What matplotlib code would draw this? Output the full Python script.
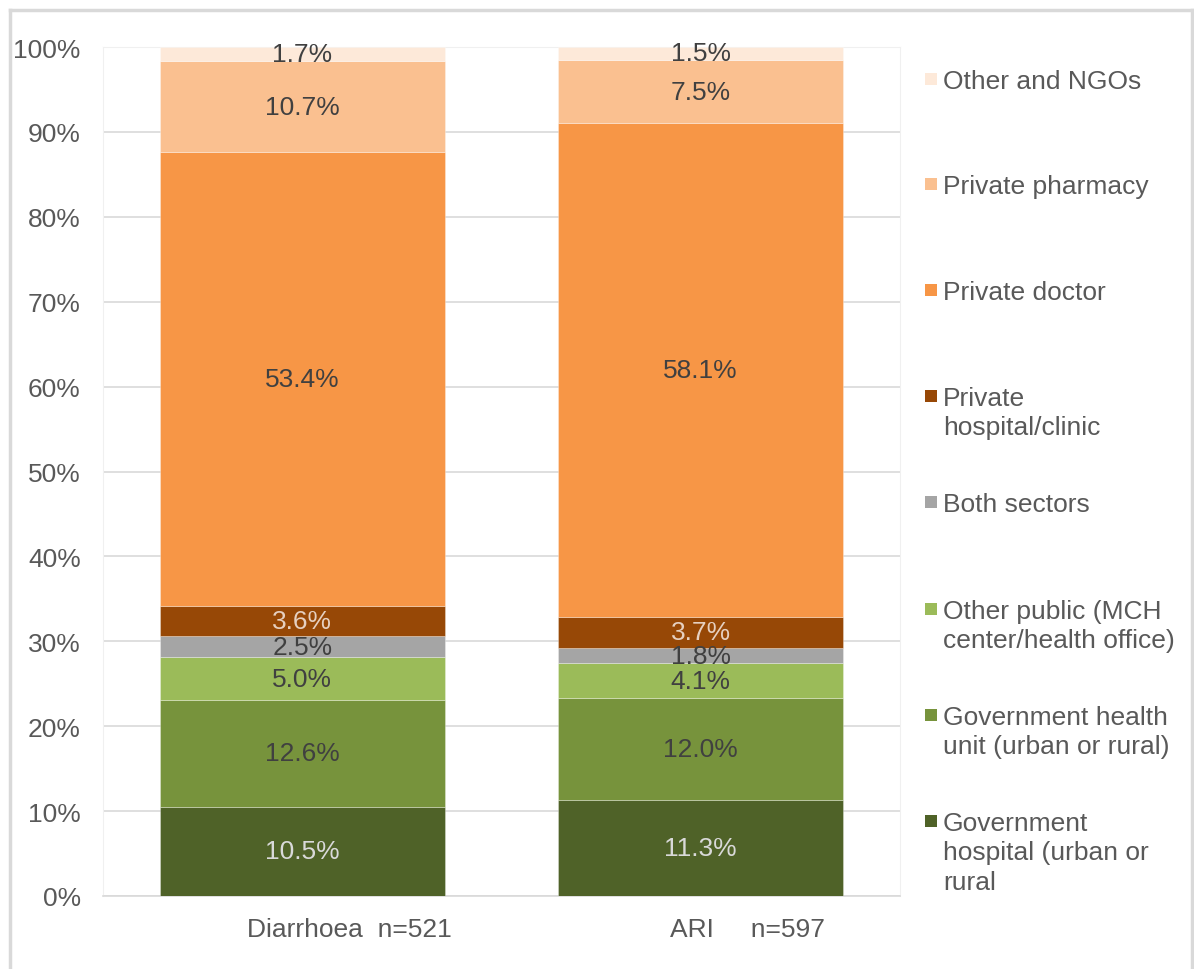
import numpy as np
import matplotlib
matplotlib.use("Agg")
import matplotlib.pyplot as plt
from matplotlib.patches import Rectangle
from matplotlib.lines import Line2D
from matplotlib.ticker import PercentFormatter
import matplotlib.transforms as mtransforms

plt.rcParams['font.family'] = ['Liberation Sans', 'DejaVu Sans']

# data, bottom of the stack first
categories = ["Diarrhoea  n=521", "ARI     n=597"]
series_names = [
    "Government\nhospital (urban or\nrural",
    "Government health\nunit (urban or rural)",
    "Other public (MCH\ncenter/health office)",
    "Both sectors",
    "Private\nhospital/clinic",
    "Private doctor",
    "Private pharmacy",
    "Other and NGOs",
]
gov_hospital = [10.5, 11.3]
gov_health_unit = [12.6, 12.0]
other_public = [5.0, 4.1]
both_sectors = [2.5, 1.8]
private_hospital = [3.6, 3.7]
private_doctor = [53.4, 58.1]
private_pharmacy = [10.7, 7.5]
other_ngos = [1.7, 1.5]

series_values = [gov_hospital, gov_health_unit, other_public, both_sectors,
                 private_hospital, private_doctor, private_pharmacy, other_ngos]
colors = ["#4F6228", "#77933C", "#9BBB59", "#A5A5A5",
          "#974806", "#F79646", "#FAC090", "#FDE9D9"]
label_colors = ["#D9D9D9", "#404040", "#404040", "#404040",
                "#E6D0C0", "#404040", "#404040", "#404040"]

text_gray = "#595959"
fs = 19
W, H = 1194, 970

fig = plt.figure(figsize=(W / 100, H / 100), dpi=100)
ax = fig.add_axes([103 / W, 73 / H, 797 / W, 849 / H])

x = np.arange(len(categories))
bottom = np.zeros(len(categories))
for vals, col, lcol in zip(series_values, colors, label_colors):
    vals = np.array(vals)
    bars = ax.bar(x, vals, 0.715, bottom=bottom, color=col,
                  edgecolor=(1, 1, 1, 0.35), linewidth=0.6, zorder=3)
    ax.bar_label(bars, labels=["{:.1f}%".format(v) for v in vals],
                 label_type="center", color=lcol, fontsize=fs, zorder=4)
    bottom += vals

ax.set_xlim(-0.5, 1.5)
ax.set_ylim(0, 100)
ax.set_yticks(np.arange(0, 101, 10))
ax.yaxis.set_major_formatter(PercentFormatter(decimals=0))
ax.grid(axis="y", color="#D9D9D9", linewidth=1.2, zorder=0)
ax.set_axisbelow(True)
for side in ["top", "right", "left"]:
    ax.spines[side].set_color("#F0F0F0")
ax.spines["bottom"].set_color("#D9D9D9")
ax.spines["bottom"].set_linewidth(1.2)
ax.tick_params(axis="both", length=0, labelsize=fs, labelcolor=text_gray)
ax.tick_params(axis="y", pad=16)
ax.tick_params(axis="x", pad=15)
ax.set_xticks(x)
ax.set_xticklabels(categories)
offset = mtransforms.ScaledTranslation(0.47, 0, fig.dpi_scale_trans)
for lab in ax.get_xticklabels():
    lab.set_transform(lab.get_transform() + offset)

# legend drawn by hand so the swatch sits on the first line
first_line_centers = [822, 716, 610, 503, 397, 291, 185, 80]
for name, col, yc in zip(series_names, colors, first_line_centers):
    fig.patches.append(Rectangle((925 / W, (H - yc - 6) / H), 12 / W, 12 / H,
                                 transform=fig.transFigure, facecolor=col,
                                 edgecolor="none"))
    fig.text(943 / W, (H - yc + 10) / H, name, ha="left", va="top",
             fontsize=fs, color=text_gray, linespacing=1.28)

# outer chart frame
frame = dict(color="#D9D9D9", linewidth=2.5, transform=fig.transFigure)
fig.lines.append(Line2D([10 / W, 10 / W], [0, (H - 11) / H], **frame))
fig.lines.append(Line2D([10 / W, 1192 / W], [(H - 11) / H, (H - 11) / H], **frame))
fig.lines.append(Line2D([1192 / W, 1192 / W], [0, (H - 11) / H], **frame))

fig.savefig("out.png", dpi=100)
